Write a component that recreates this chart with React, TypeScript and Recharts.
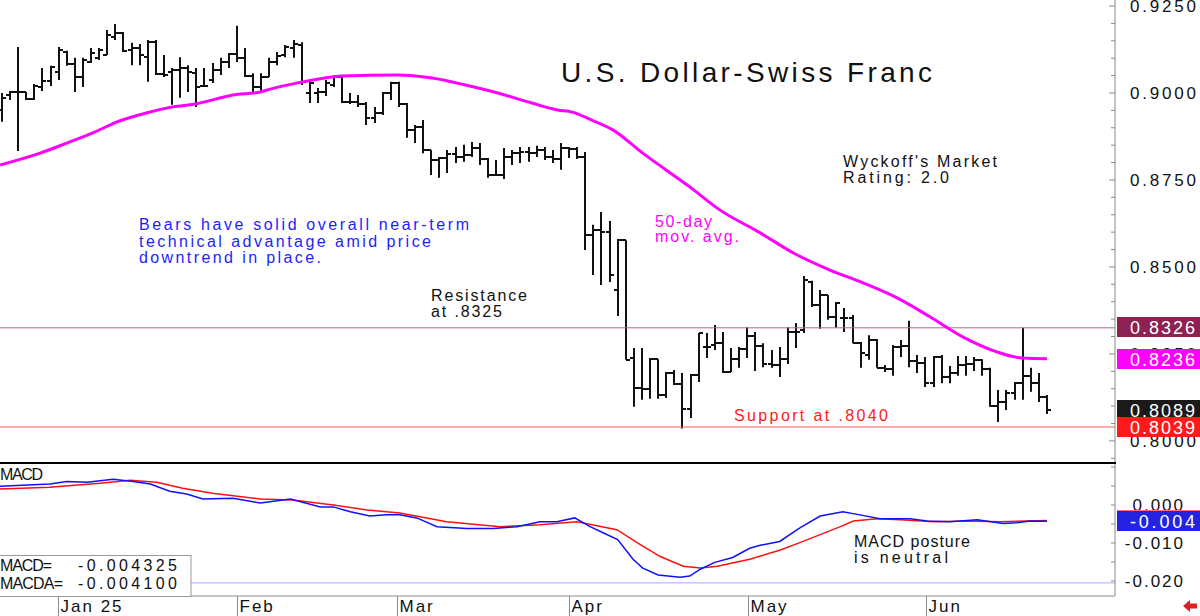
import React from "react";
import { Bar, ComposedChart, Line, ReferenceLine, XAxis, YAxis } from "recharts";

const FONT = '"Liberation Sans", Arial, Helvetica, sans-serif';
const INK = "#111";
const AXIS = "#8a8a8a";
const MAGENTA = "#ff00ff";
const BLUE_TXT = "#1e1eff";
const RED = "#ff2020";

// x is the trading-day index (0 = first bar on the left edge)
const X_DOMAIN: [number, number] = [-0.25, 137.4];
const PRICE_DOMAIN: [number, number] = [0.79365, 0.92672];
const MACD_DOMAIN: [number, number] = [-0.02395, 0.01105];

// daily USD/CHF bars, late Dec → late Jun
const opens = [
  0.8951, 0.8994, 0.9003, 0.9003, 0.8983, 0.9017, 0.9034, 0.906, 0.9118, 0.9083,
  0.9046, 0.9089, 0.9101, 0.9109, 0.9161, 0.9172, 0.9124, 0.9129, 0.9103, 0.9146,
  0.9055, 0.906, 0.9066, 0.9072, 0.9057, 0.902, 0.9037, 0.9066, 0.9089, 0.9112,
  0.9101, 0.9049, 0.9017, 0.9046, 0.9089, 0.9109, 0.9129, 0.9138, 0.9, 0.9,
  0.9003, 0.9023, 0.9046, 0.8974, 0.8974, 0.8968, 0.8928, 0.8943, 0.9, 0.9029,
  0.8968, 0.8894, 0.8902, 0.8836, 0.8807, 0.8813, 0.8825, 0.8816, 0.8822, 0.8842,
  0.881, 0.8764, 0.8764, 0.8816, 0.8827, 0.883, 0.8827, 0.8836, 0.8816, 0.881,
  0.8842, 0.8839, 0.8816, 0.8592, 0.8606, 0.86, 0.8434, 0.8577, 0.8238, 0.8152,
  0.8149, 0.8235, 0.8132, 0.8195, 0.8164, 0.8092, 0.8189, 0.827, 0.8276, 0.8281,
  0.8198, 0.8235, 0.8264, 0.8302, 0.8273, 0.8221, 0.8218, 0.8235, 0.8313, 0.8319,
  0.8457, 0.8391, 0.8419, 0.8356, 0.8353, 0.8353, 0.8281, 0.8247, 0.829, 0.821,
  0.8207, 0.827, 0.8273, 0.823, 0.8224, 0.8166, 0.8241, 0.8184, 0.8195, 0.8218,
  0.8221, 0.8233, 0.8207, 0.81, 0.8112, 0.8138, 0.8166, 0.8187, 0.8166, 0.8126,
];
const highs = [
  0.9, 0.9006, 0.9132, 0.9003, 0.9026, 0.9072, 0.9078, 0.9132, 0.9121, 0.9101,
  0.9101, 0.9129, 0.9129, 0.9181, 0.9198, 0.9175, 0.9144, 0.9141, 0.9152, 0.9152,
  0.9109, 0.9072, 0.9103, 0.908, 0.9072, 0.9072, 0.9086, 0.9101, 0.9115, 0.9193,
  0.9129, 0.9057, 0.9057, 0.9101, 0.9118, 0.9138, 0.9152, 0.9146, 0.9037, 0.9014,
  0.9037, 0.9052, 0.9049, 0.9, 0.8994, 0.8974, 0.896, 0.9003, 0.9032, 0.9032,
  0.8971, 0.8908, 0.8922, 0.8836, 0.8816, 0.8836, 0.8845, 0.8851, 0.8859, 0.8856,
  0.8813, 0.8807, 0.8842, 0.8836, 0.8845, 0.8845, 0.8848, 0.8845, 0.8836, 0.8856,
  0.8845, 0.8845, 0.883, 0.8621, 0.8658, 0.8632, 0.858, 0.8577, 0.8267, 0.8267,
  0.8238, 0.8235, 0.8198, 0.8204, 0.8195, 0.8192, 0.831, 0.831, 0.8333, 0.8313,
  0.8267, 0.827, 0.8327, 0.8313, 0.8281, 0.8261, 0.827, 0.8327, 0.8339, 0.8474,
  0.846, 0.8434, 0.8419, 0.8399, 0.8382, 0.8362, 0.8284, 0.8304, 0.8293, 0.8218,
  0.8276, 0.829, 0.8345, 0.8247, 0.8241, 0.8244, 0.8247, 0.8215, 0.8244, 0.8244,
  0.8241, 0.8235, 0.821, 0.8146, 0.8146, 0.8169, 0.8325, 0.821, 0.8195, 0.8132,
];
const lows = [
  0.8917, 0.898, 0.8833, 0.898, 0.898, 0.9006, 0.902, 0.9037, 0.9078, 0.9003,
  0.9017, 0.9086, 0.9095, 0.9109, 0.9152, 0.9118, 0.908, 0.908, 0.9032, 0.9052,
  0.9046, 0.8966, 0.8986, 0.9003, 0.896, 0.9017, 0.9029, 0.9052, 0.9072, 0.9089,
  0.9046, 0.9, 0.9003, 0.9046, 0.908, 0.9103, 0.9101, 0.9023, 0.8971, 0.8971,
  0.8991, 0.9017, 0.8971, 0.8968, 0.896, 0.8908, 0.8914, 0.8937, 0.898, 0.896,
  0.8871, 0.8856, 0.8827, 0.8764, 0.8756, 0.877, 0.8799, 0.8802, 0.8816, 0.8793,
  0.8756, 0.8764, 0.8753, 0.8793, 0.8799, 0.8802, 0.8816, 0.8807, 0.8799, 0.8779,
  0.8813, 0.881, 0.8549, 0.8477, 0.8448, 0.8457, 0.8359, 0.8233, 0.8098, 0.8118,
  0.8121, 0.8121, 0.8123, 0.8161, 0.8036, 0.8066, 0.8169, 0.8238, 0.8261, 0.8195,
  0.8198, 0.821, 0.8238, 0.8201, 0.8212, 0.821, 0.8184, 0.8221, 0.8267, 0.831,
  0.8385, 0.8322, 0.8348, 0.8325, 0.8313, 0.8281, 0.821, 0.8233, 0.821, 0.8198,
  0.8187, 0.8241, 0.8212, 0.8195, 0.8155, 0.8155, 0.8166, 0.8166, 0.8187, 0.8187,
  0.8201, 0.8187, 0.8098, 0.8054, 0.8089, 0.8118, 0.8118, 0.8141, 0.8112, 0.8077,
];
const closes = [
  0.8986, 0.9003, 0.9003, 0.8983, 0.902, 0.9034, 0.9075, 0.9124, 0.9083, 0.9046,
  0.9095, 0.9115, 0.9124, 0.9167, 0.9172, 0.9121, 0.9129, 0.9109, 0.9146, 0.9055,
  0.9052, 0.9066, 0.9072, 0.906, 0.9017, 0.902, 0.9066, 0.9089, 0.9112, 0.9101,
  0.9049, 0.9017, 0.9046, 0.9089, 0.9106, 0.9132, 0.9141, 0.9032, 0.9029, 0.9003,
  0.9029, 0.9046, 0.8974, 0.8974, 0.8968, 0.8928, 0.8943, 0.9, 0.9029, 0.8968,
  0.8894, 0.8902, 0.8836, 0.8807, 0.8813, 0.8825, 0.8816, 0.8822, 0.8842, 0.881,
  0.8764, 0.8764, 0.8816, 0.8827, 0.883, 0.8827, 0.8836, 0.8816, 0.881, 0.8842,
  0.8839, 0.8816, 0.8592, 0.8606, 0.86, 0.8477, 0.8577, 0.8233, 0.8152, 0.8149,
  0.8235, 0.8132, 0.8195, 0.8164, 0.8092, 0.8189, 0.831, 0.827, 0.8281, 0.8198,
  0.8235, 0.8264, 0.8302, 0.8273, 0.8221, 0.8218, 0.8235, 0.8313, 0.8313, 0.8462,
  0.8391, 0.8419, 0.8356, 0.8396, 0.8353, 0.8281, 0.8253, 0.829, 0.821, 0.8207,
  0.827, 0.8273, 0.823, 0.8224, 0.8166, 0.8241, 0.8184, 0.8195, 0.8218, 0.8221,
  0.8233, 0.8207, 0.81, 0.8112, 0.8138, 0.8166, 0.8187, 0.8166, 0.8126, 0.8089,
];

// 50-day moving average, read at points along the curve
const maIdx = [-0.25, 4.7, 8.0, 11.2, 14.2, 17.9, 21.1, 23.8, 28.5, 31.9, 33.1, 36.5, 42.0, 48.9, 53.1, 57.2, 61.2, 65.4, 68.6, 70.4, 72.8, 75.4, 79.1, 84.9, 88.6, 93.6, 97.7, 102.2, 106.3, 110.5, 114.6, 118.6, 122.8, 126.0, 129.0];
const maVals = [0.8793, 0.8827, 0.8856, 0.8885, 0.8917, 0.8943, 0.896, 0.8968, 0.8994, 0.9003, 0.9011, 0.9029, 0.9049, 0.9052, 0.9043, 0.9023, 0.9, 0.8971, 0.8951, 0.8945, 0.8922, 0.8894, 0.8827, 0.873, 0.8664, 0.8598, 0.854, 0.8491, 0.8454, 0.8411, 0.8356, 0.8299, 0.8256, 0.8238, 0.8236];

// MACD (blue) and its average (red)
const macdIdx = [-0.25, 5.9, 8.0, 10.5, 13.7, 16.2, 18.3, 20.7, 22.8, 24.8, 28.5, 31.9, 35.6, 39.3, 40.9, 43.0, 45.4, 47.5, 49.1, 51.2, 53.7, 57.4, 60.6, 63.6, 66.4, 68.5, 70.7, 72.6, 74.2, 76.0, 77.9, 79.1, 81.0, 83.7, 84.9, 86.2, 88.0, 90.2, 92.3, 93.6, 96.0, 98.5, 101.0, 103.8, 105.9, 108.4, 112.1, 114.2, 117.0, 120.4, 123.6, 125.3, 126.9, 129.0];
const macdVals = [0.0049, 0.0055, 0.0062, 0.006, 0.0068, 0.0062, 0.0055, 0.0036, 0.0029, 0.0016, 0.0018, 0.0005, 0.0016, -0.0005, -0.0005, -0.0018, -0.0029, -0.0026, -0.0026, -0.0034, -0.0057, -0.0062, -0.0062, -0.0057, -0.0044, -0.0044, -0.0034, -0.0057, -0.0073, -0.0091, -0.0143, -0.0166, -0.0184, -0.019, -0.0187, -0.0169, -0.0151, -0.0138, -0.0114, -0.0106, -0.0096, -0.006, -0.0029, -0.0018, -0.0026, -0.0036, -0.0036, -0.0042, -0.0044, -0.0039, -0.0049, -0.0047, -0.0042, -0.0043];
const macdaIdx = [-0.25, 5.9, 12.1, 15.8, 19.1, 22.3, 26.0, 31.9, 35.9, 40.9, 45.1, 49.1, 54.9, 61.5, 66.4, 71.0, 75.9, 78.8, 81.2, 84.1, 86.2, 88.3, 92.3, 96.0, 98.5, 101.0, 103.5, 105.1, 108.0, 110.9, 115.0, 119.1, 123.2, 129.0];
const macdaVals = [0.0042, 0.0047, 0.0057, 0.0065, 0.006, 0.0044, 0.0031, 0.0016, 0.0013, 0.0, -0.0013, -0.0021, -0.0044, -0.0057, -0.0052, -0.0044, -0.0065, -0.0104, -0.0135, -0.0161, -0.0166, -0.0161, -0.0143, -0.0119, -0.0099, -0.0078, -0.0057, -0.0042, -0.0036, -0.0039, -0.0044, -0.0042, -0.0044, -0.0041];

const priceTicks = [0.795, 0.8, 0.805, 0.81, 0.815, 0.82, 0.825, 0.83, 0.835, 0.84, 0.845, 0.85, 0.855, 0.86, 0.865, 0.87, 0.875, 0.88, 0.885, 0.89, 0.895, 0.9, 0.905, 0.91, 0.915, 0.92, 0.925];
const priceLabelTicks = [0.8, 0.825, 0.85, 0.875, 0.9, 0.925];
const macdTicks = [-0.02, -0.015, -0.01, -0.005, 0, 0.005, 0.01];
const macdLabelTicks = [-0.02, -0.01, 0];
const monthTicks = [6.91, 29.01, 48.76, 70.0, 92.09, 114.07];
const monthLabels = ["Jan 25", "Feb", "Mar", "Apr", "May", "Jun"];

const RESISTANCE = 0.8325;
const SUPPORT = 0.804;
const MACD_FLOOR = -0.0205;

// last-value tags on the right axis (drawn in order, later ones on top)
const priceTags = [
  { v: 0.8326, text: "0.8326", fill: "#8b2252" },
  { v: 0.8236, text: "0.8236", fill: MAGENTA },
  { v: 0.8089, text: "0.8089", fill: "#1a1a1a" },
  { v: 0.8039, text: "0.8039", fill: "#ff1a1a" },
];
const macdTags = [
  { v: -0.0039, text: "-0.004", fill: "#ff6a8a" },
  { v: -0.004325, text: "-0.004", fill: "#2424e0" },
];

const bars = opens.map((o, i) => ({
  i,
  open: o,
  high: highs[i],
  low: lows[i],
  close: closes[i],
  range: [lows[i], highs[i]],
}));
const maRows = maIdx.map((i, k) => ({ i, ma: maVals[k] }));
const macdRows = macdIdx.map((i, k) => ({ i, v: macdVals[k] }));
const macdaRows = macdaIdx.map((i, k) => ({ i, v: macdaVals[k] }));

const notes = [
  { text: "Bears have solid overall near-term", x: 139, y: 230, w: 330, color: BLUE_TXT },
  { text: "technical advantage amid price", x: 139, y: 247, w: 292, color: BLUE_TXT },
  { text: "downtrend in place.", x: 139, y: 263, w: 182, color: BLUE_TXT },
  { text: "Resistance", x: 431, y: 301, w: 96, color: INK },
  { text: "at .8325", x: 431, y: 317, w: 71, color: INK },
  { text: "50-day", x: 655, y: 227, w: 57, color: MAGENTA },
  { text: "mov. avg.", x: 655, y: 242, w: 84, color: MAGENTA },
  { text: "Wyckoff's Market", x: 843, y: 167, w: 154, color: INK },
  { text: "Rating: 2.0", x: 843, y: 183, w: 106, color: INK },
  { text: "Support at .8040", x: 734, y: 421, w: 154, color: RED },
  { text: "MACD posture", x: 854, y: 547, w: 116, color: INK },
  { text: "is neutral", x: 854, y: 563, w: 94, color: INK },
  { text: "MACD", x: 0, y: 480, w: 43, color: INK },
  { text: "MACD=", x: 0, y: 571, w: 52, color: INK },
  { text: "-0.004325", x: 78, y: 571, w: 99, color: INK },
  { text: "MACDA=", x: 0, y: 589, w: 63, color: INK },
  { text: "-0.004100", x: 78, y: 589, w: 99, color: INK },
];

function OhlcShape(props: any) {
  const { x, y, width, height, payload } = props;
  if (x == null || y == null || !payload) return null;
  const cx = Math.round(x + width / 2);
  const top = Math.min(y, y + height);
  const h = Math.abs(height);
  const span = payload.high - payload.low || 1;
  const py = (p: number) => Math.round(top + ((payload.high - p) / span) * h);
  return (
    <g stroke={INK} strokeWidth={2}>
      <line x1={cx} x2={cx} y1={top} y2={top + h} />
      <line x1={cx - 4} x2={cx} y1={py(payload.open)} y2={py(payload.open)} />
      <line x1={cx} x2={cx + 4} y1={py(payload.close)} y2={py(payload.close)} />
    </g>
  );
}

function PriceTick(props: any) {
  const { x, y, payload } = props;
  const v = payload.value;
  const labelled = priceLabelTicks.some((t) => Math.abs(t - v) < 1e-9);
  return (
    <g>
      <line x1={x - (labelled ? 6 : 4)} x2={x} y1={y} y2={y} stroke={AXIS} />
      {labelled && (
        <text x={x + 15} y={y + 6} fontSize={17} fill={INK} fontFamily={FONT} textLength={66} lengthAdjust="spacing">
          {v.toFixed(4)}
        </text>
      )}
    </g>
  );
}

function MacdTick(props: any) {
  const { x, y, payload } = props;
  const v = payload.value;
  const labelled = macdLabelTicks.some((t) => Math.abs(t - v) < 1e-9);
  return (
    <g>
      <line x1={x - 4} x2={x} y1={y} y2={y} stroke={AXIS} />
      {labelled && (
        <text x={1185} y={y + 6} fontSize={17} fill={INK} fontFamily={FONT} textAnchor="end" letterSpacing={2}>
          {v === 0 ? "0.000" : v.toFixed(3)}
        </text>
      )}
    </g>
  );
}

function MonthTick(props: any) {
  const { x, y, payload } = props;
  const k = monthTicks.findIndex((t) => Math.abs(t - payload.value) < 1e-6);
  const px = Math.round(x) + 0.5;
  return (
    <g>
      <line x1={px} x2={px} y1={y} y2={y + 20} stroke={AXIS} />
      <text x={px + 2} y={y + 16} fontSize={17} fill={INK} fontFamily={FONT} letterSpacing={2}>
        {monthLabels[k]}
      </text>
    </g>
  );
}

function ValueBox(props: any) {
  const { viewBox, text, fill } = props;
  if (!viewBox) return null;
  const x0 = viewBox.x + viewBox.width + 2;
  const yc = Math.round(viewBox.y);
  return (
    <g>
      <rect x={x0} y={yc - 10} width={85} height={20} fill={fill} />
      <text x={x0 + 13} y={yc + 7} fontSize={18} fill="#fff" fontFamily={FONT} textLength={65} lengthAdjust="spacing">
        {text}
      </text>
    </g>
  );
}

// transparent chart laid over a panel so the value tags sit above the axis labels
function TagLayer({ height, bottom, domain, tags }: { height: number; bottom: number; domain: [number, number]; tags: typeof priceTags }) {
  return (
    <div style={{ position: "absolute", left: 0, top: 0 }}>
      <ComposedChart width={1200} height={height} margin={{ top: 0, right: 85, bottom, left: 0 }}>
        <XAxis type="number" dataKey="i" domain={X_DOMAIN} allowDataOverflow hide />
        <YAxis type="number" domain={domain} allowDataOverflow hide />
        {tags.map((t) => (
          <ReferenceLine key={t.fill + t.v} y={t.v} stroke="none" label={<ValueBox text={t.text} fill={t.fill} />} />
        ))}
      </ComposedChart>
    </div>
  );
}

export default function App() {
  return (
    <div style={{ position: "absolute", left: 0, top: 0, width: 1200, height: 616, background: "#fff", fontFamily: FONT, overflow: "hidden" }}>
      <div style={{ position: "absolute", left: 0, top: 0, width: 1200, height: 463 }}>
        <ComposedChart width={1200} height={463} data={bars} margin={{ top: 0, right: 0, bottom: 0, left: 0 }}>
          <XAxis type="number" dataKey="i" domain={X_DOMAIN} allowDataOverflow hide />
          <YAxis
            type="number"
            orientation="right"
            width={85}
            domain={PRICE_DOMAIN}
            allowDataOverflow
            ticks={priceTicks}
            interval={0}
            tick={PriceTick}
            tickLine={false}
            tickSize={0}
            tickMargin={0}
            axisLine={{ stroke: AXIS }}
          />
          <ReferenceLine y={RESISTANCE} stroke="#b06684" strokeWidth={1} />
          <ReferenceLine y={SUPPORT} stroke="#ff5a5a" strokeWidth={1} />
          <Bar dataKey="range" barSize={6} shape={(p: any) => <OhlcShape {...p} />} isAnimationActive={false} />
          <Line data={maRows} dataKey="ma" type="monotone" stroke={MAGENTA} strokeWidth={3} dot={false} activeDot={false} isAnimationActive={false} />
        </ComposedChart>
        <TagLayer height={463} bottom={0} domain={PRICE_DOMAIN} tags={priceTags} />
      </div>

      <div style={{ position: "absolute", left: 0, top: 463, width: 1200, height: 153 }}>
        <ComposedChart width={1200} height={153} margin={{ top: 0, right: 0, bottom: 0, left: 0 }}>
          <XAxis
            type="number"
            dataKey="i"
            domain={X_DOMAIN}
            allowDataOverflow
            ticks={monthTicks}
            interval={0}
            height={20}
            tick={MonthTick}
            tickLine={false}
            tickSize={0}
            tickMargin={0}
            axisLine={{ stroke: AXIS }}
          />
          <YAxis
            type="number"
            orientation="right"
            width={85}
            domain={MACD_DOMAIN}
            allowDataOverflow
            ticks={macdTicks}
            interval={0}
            tick={MacdTick}
            tickLine={false}
            tickSize={0}
            tickMargin={0}
            axisLine={{ stroke: AXIS }}
          />
          <ReferenceLine y={MACD_FLOOR} stroke="#a8a8ff" strokeWidth={1} />
          <Line data={macdaRows} dataKey="v" type="linear" stroke="#ff1010" strokeWidth={1.5} dot={false} activeDot={false} isAnimationActive={false} />
          <Line data={macdRows} dataKey="v" type="linear" stroke="#1010ff" strokeWidth={1.5} dot={false} activeDot={false} isAnimationActive={false} />
        </ComposedChart>
        <TagLayer height={153} bottom={20} domain={MACD_DOMAIN} tags={macdTags} />
      </div>

      <svg width={1200} height={616} style={{ position: "absolute", left: 0, top: 0, pointerEvents: "none" }}>
        <rect x={0} y={462} width={1116} height={2} fill="#000" />
        <rect x={-1} y={555.5} width={192} height={41} fill="#fff" stroke="#999" />
        <text x={561} y={82} fontSize={28} fill={INK} fontFamily={FONT} textLength={371} lengthAdjust="spacing">
          U.S. Dollar-Swiss Franc
        </text>
        {notes.map((n) => (
          <text key={n.text + n.y} x={n.x} y={n.y} fontSize={16} fill={n.color} fontFamily={FONT} textLength={n.w} lengthAdjust="spacing">
            {n.text}
          </text>
        ))}
        <polygon points="1183,606 1190,600 1190,603.5 1197,603.5 1197,608.5 1190,608.5 1190,612" fill="#e02020" />
      </svg>
    </div>
  );
}
